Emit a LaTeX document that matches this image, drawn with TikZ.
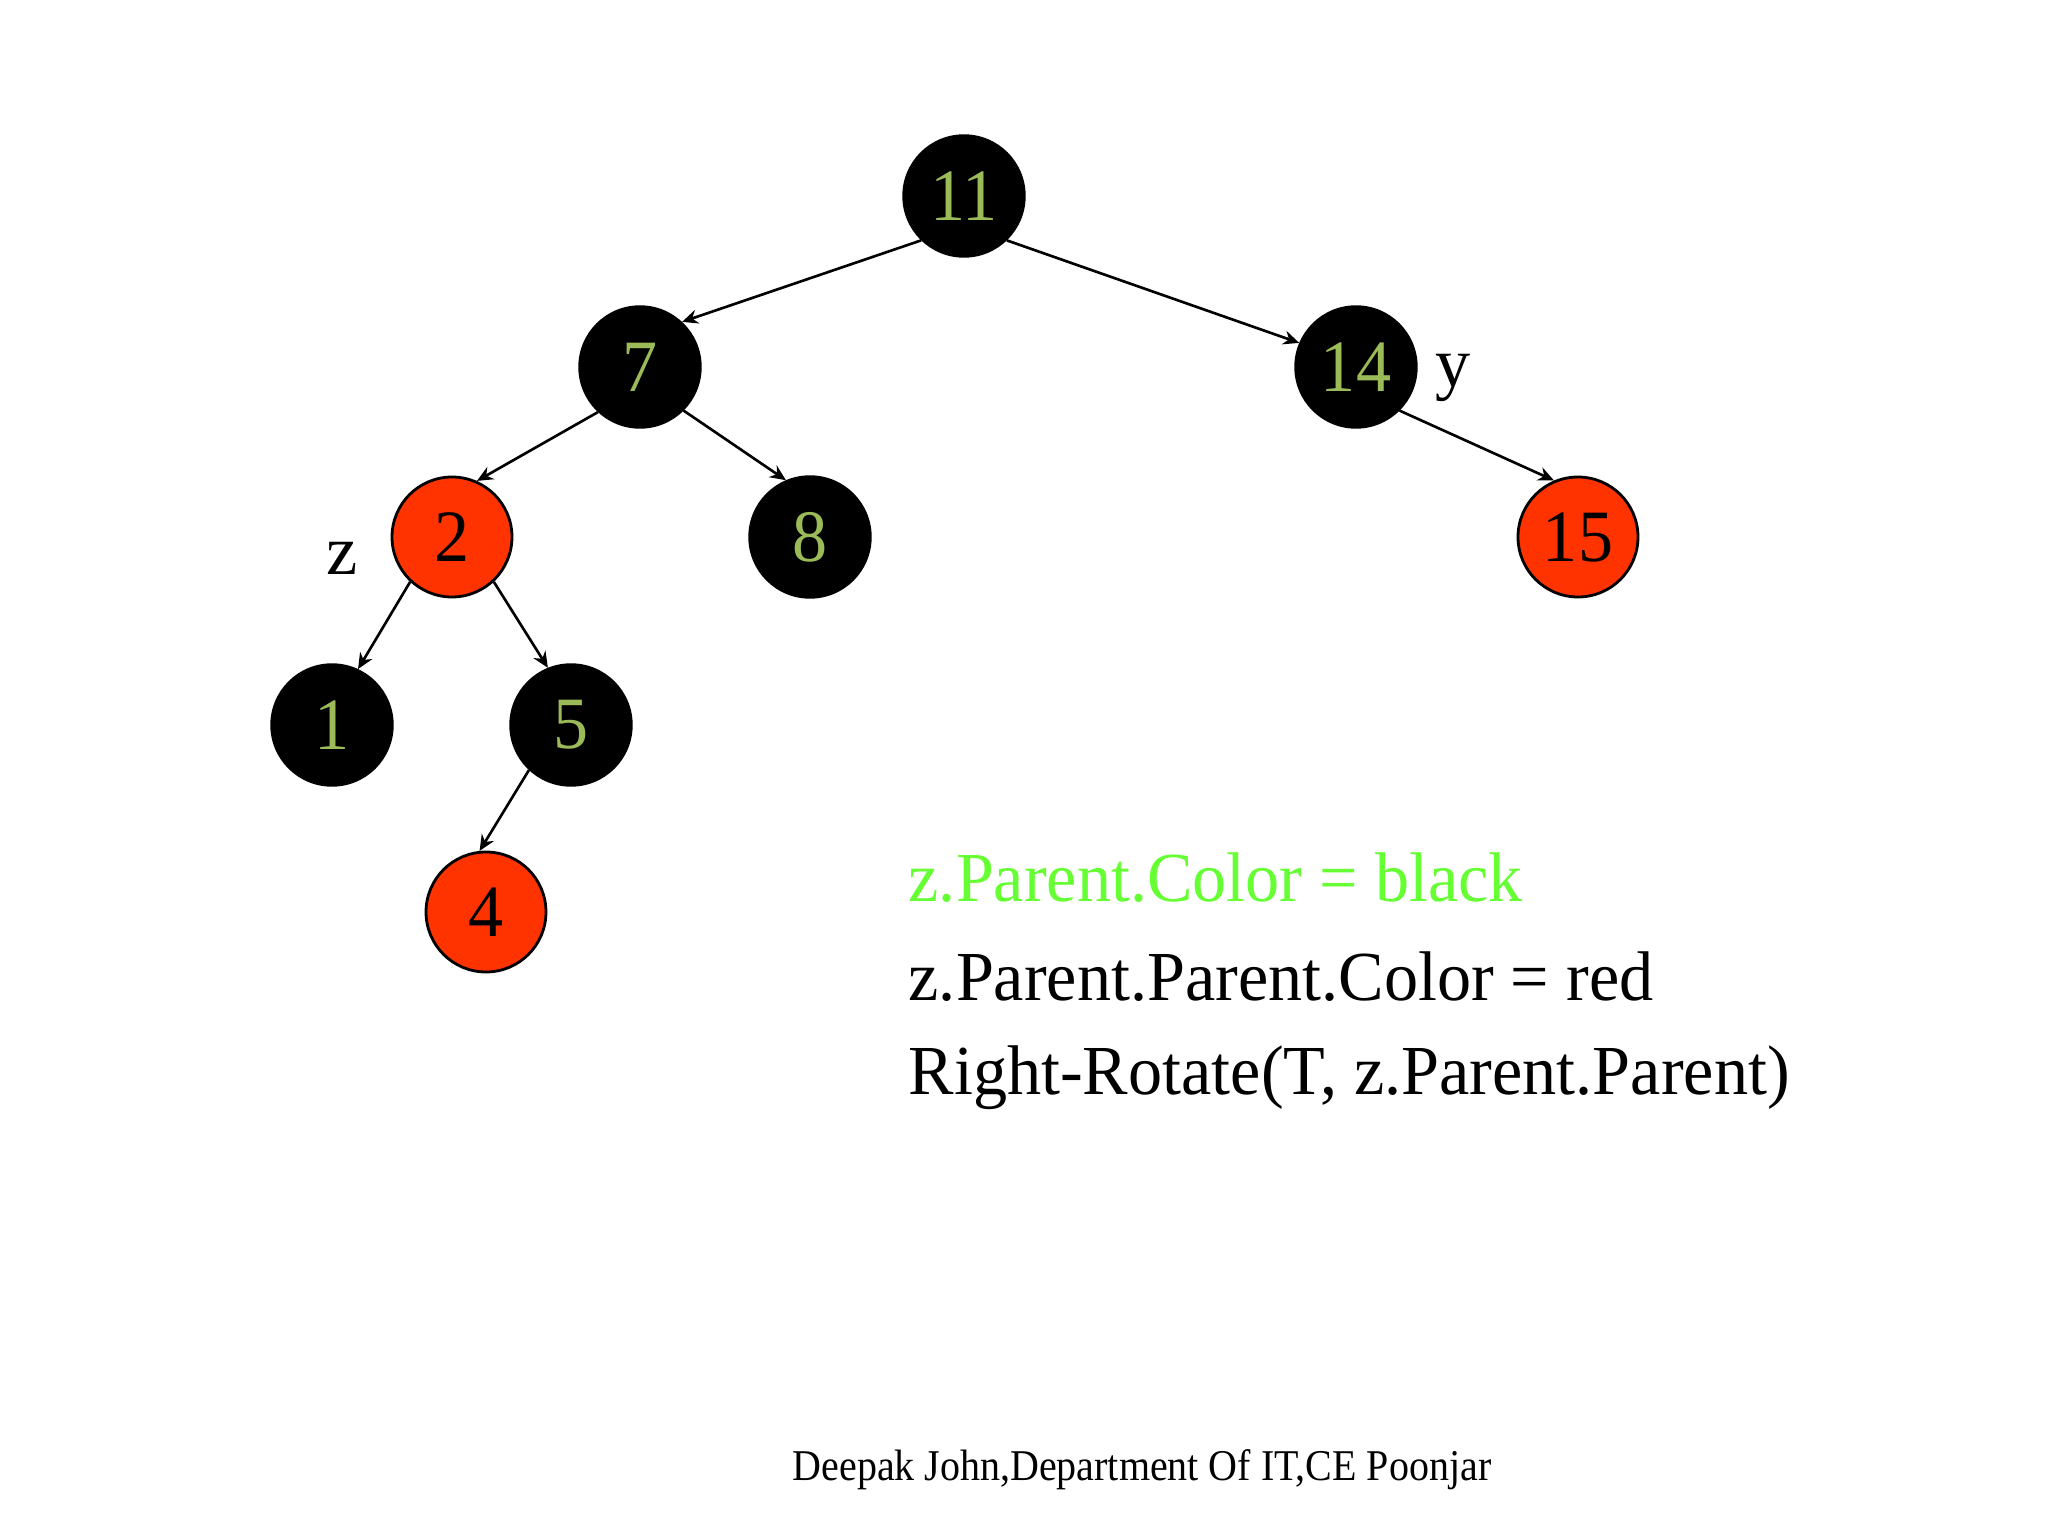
\documentclass[tikz,border=0pt]{standalone}
\usepackage{fontspec}
\setmainfont{Liberation Serif}
\newfontfamily\codefont[FakeStretch=0.97]{Liberation Serif}
\newfontfamily\footfont[FakeStretch=0.91]{Liberation Serif}
\newfontfamily\keyfont[FakeStretch=0.95]{Liberation Serif}
\usetikzlibrary{arrows.meta,positioning}
\definecolor{keygreen}{RGB}{155,187,89}
\definecolor{nodered}{RGB}{255,51,0}
\definecolor{linegreen}{RGB}{102,255,51}

\begin{document}
\begin{tikzpicture}[
    blacknode/.style={circle, fill=black, draw=black, minimum size=1.22cm, inner sep=0pt, text=keygreen, font=\keyfont\fontsize{21}{25}\selectfont},
    rednode/.style={circle, fill=nodered, draw=black, line width=0.8pt, minimum size=1.2cm, inner sep=0pt, text=black, font=\keyfont\fontsize{21}{25}\selectfont},
    edge/.style={-{Stealth[length=4.5pt,width=4pt]}, line width=0.75pt},
    mark label/.style={font=\fontsize{20}{24}\selectfont},
    codeline/.style={anchor=base west, inner sep=0pt, font=\codefont\fontsize{20}{24}\selectfont}
  ]
        \useasboundingbox[fill=white] (0,0) rectangle (20.48,-15.36);

        % Tree nodes
        \node[blacknode] (n11) at (9.64,-1.96) {11};
        \node[blacknode] (n7) at (6.40,-3.67) {7};
        \node[blacknode] (n14) at (13.56,-3.67) {14};
        \node[rednode] (n2) at (4.52,-5.37) {2};
        \node[blacknode] (n8) at (8.10,-5.37) {8};
        \node[rednode] (n15) at (15.78,-5.37) {15};
        \node[blacknode] (n1) at (3.32,-7.25) {1};
        \node[blacknode] (n5) at (5.71,-7.25) {5};
        \node[rednode] (n4) at (4.86,-9.12) {4};

        % Labels z and y
        \node[mark label] (zlabel) at (3.42,-5.58) {z};
        \node[mark label] (ylabel) at (14.53,-3.78) {y};

        % Edges
        \draw[edge] (n11.226) -- (n7.47);
        \draw[edge] (n11.314) -- (n14.157);
        \draw[edge] (n7.227) -- (n2.66);
        \draw[edge] (n7.315) -- (n8.113);
        \draw[edge] (n14.315) -- (n15.113);
        \draw[edge] (n2.227) -- (n1.65);
        \draw[edge] (n2.313) -- (n5.112);
        \draw[edge] (n5.227) -- (n4.96);

        % Fix-up steps
        \node[codeline, text=linegreen] (step1) at (9.08,-9.01) {z.Parent.Color = black};
        \node[codeline] (step2) at (9.08,-10.00) {z.Parent.Parent.Color = red};
        \node[codeline] (step3) at (9.08,-10.95) {Right-Rotate(T, z.Parent.Parent)};

        % Footer
        \node[anchor=base, inner sep=0pt, font=\footfont\fontsize{12.5}{15}\selectfont] (footer) at (11.42,-14.80) {Deepak John,Department Of IT,CE Poonjar};
    \end{tikzpicture}
\end{document}
